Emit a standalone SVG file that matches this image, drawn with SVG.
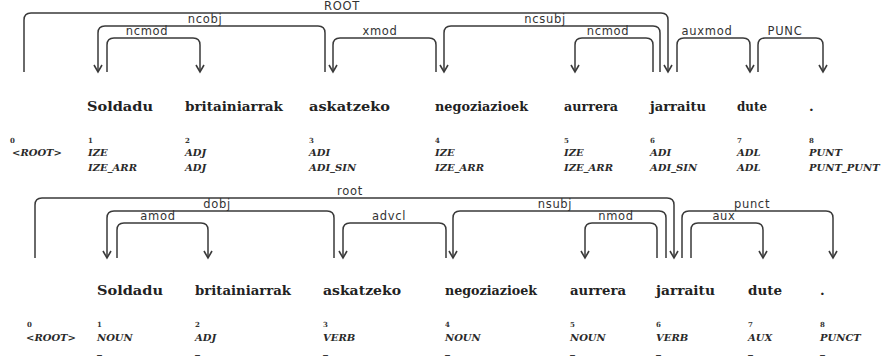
<svg xmlns="http://www.w3.org/2000/svg" width="893" height="362" viewBox="0 0 893 362">
<style>
.arc{fill:none;stroke:#3a3a3a;stroke-width:1.5}
.arr{marker-end:url(#ah)}
.lbl{font-family:"DejaVu Sans",Verdana,sans-serif;font-size:11.5px;fill:#333;text-anchor:middle;letter-spacing:0.7px}
.w{font-family:"DejaVu Serif","Liberation Serif",serif;font-size:13.5px;font-weight:bold;fill:#222}
.n{font-family:"DejaVu Serif","Liberation Serif",serif;font-size:7px;font-weight:bold;fill:#333}
.t{font-family:"DejaVu Serif","Liberation Serif",serif;font-size:10px;font-style:italic;font-weight:bold;fill:#2a2a2a}
</style>
<defs>
<marker id="ah" markerUnits="userSpaceOnUse" markerWidth="12" markerHeight="12" viewBox="-9 -6 12 12" refX="0" refY="0" orient="auto" overflow="visible">
<path d="M-7,-4 L0,0 L-7,4" fill="none" stroke="#3a3a3a" stroke-width="1.6"/>
</marker>
</defs>
<rect width="893" height="362" fill="#fff"/>

<g id="connectors">
<g id="top-arcs">
<path class="arc arr" d="M24,72 V20 Q24,13 31,13 H661 Q668,13 668,20 V72"/>
<path class="arc arr" d="M325,72 V33 Q325,26 318,26 H105 Q98,26 98,33 V72"/>
<path class="arc arr" d="M107,72 V45 Q107,38 114,38 H193 Q200,38 200,45 V72"/>
<path class="arc arr" d="M436,72 V45 Q436,38 429,38 H340 Q333,38 333,45 V72"/>
<path class="arc arr" d="M660,72 V33 Q660,26 653,26 H451 Q444,26 444,33 V72"/>
<path class="arc arr" d="M653,72 V45 Q653,38 646,38 H582 Q575,38 575,45 V72"/>
<path class="arc arr" d="M677,72 V45 Q677,38 684,38 H743 Q750,38 750,45 V72"/>
<path class="arc arr" d="M758,72 V45 Q758,38 765,38 H816 Q823,38 823,45 V72"/>
<text class="lbl" x="342" y="10">ROOT</text>
<text class="lbl" x="205" y="23">ncobj</text>
<text class="lbl" x="147" y="35">ncmod</text>
<text class="lbl" x="380" y="35">xmod</text>
<text class="lbl" x="545" y="23">ncsubj</text>
<text class="lbl" x="608" y="35">ncmod</text>
<text class="lbl" x="707" y="35">auxmod</text>
<text class="lbl" x="785" y="35">PUNC</text>
</g>
<g id="bottom-arcs">
<path class="arc arr" d="M35,258 V205 Q35,198 42,198 H667 Q674,198 674,205 V258"/>
<path class="arc arr" d="M334,258 V218 Q334,211 327,211 H114 Q107,211 107,218 V258"/>
<path class="arc arr" d="M117,258 V230 Q117,223 124,223 H201 Q208,223 208,230 V258"/>
<path class="arc arr" d="M446,258 V230 Q446,223 439,223 H350 Q343,223 343,230 V258"/>
<path class="arc arr" d="M666,258 V218 Q666,211 659,211 H460 Q453,211 453,218 V258"/>
<path class="arc arr" d="M657,258 V230 Q657,223 650,223 H592 Q585,223 585,230 V258"/>
<path class="arc arr" d="M682,258 V218 Q682,211 689,211 H826 Q833,211 833,218 V258"/>
<path class="arc arr" d="M691,258 V230 Q691,223 698,223 H756 Q763,223 763,230 V258"/>
<text class="lbl" x="350" y="195">root</text>
<text class="lbl" x="217" y="208">dobj</text>
<text class="lbl" x="158" y="220">amod</text>
<text class="lbl" x="389" y="220">advcl</text>
<text class="lbl" x="555" y="208">nsubj</text>
<text class="lbl" x="616" y="220">nmod</text>
<text class="lbl" x="752" y="208">punct</text>
<text class="lbl" x="724" y="220">aux</text>
</g>
</g>

<g id="top-tokens">
<g id="t0"><text class="n" x="10" y="143">0</text><text class="t" x="12" y="156">&lt;ROOT&gt;</text></g>
<g id="t1"><text class="w" x="87" y="111" textLength="66" lengthAdjust="spacingAndGlyphs">Soldadu</text><text class="n" x="88" y="143">1</text><text class="t" x="88" y="156">IZE</text><text class="t" x="88" y="171">IZE_ARR</text></g>
<g id="t2"><text class="w" x="185" y="111" textLength="98" lengthAdjust="spacingAndGlyphs">britainiarrak</text><text class="n" x="185" y="143">2</text><text class="t" x="185" y="156">ADJ</text><text class="t" x="185" y="171">ADJ</text></g>
<g id="t3"><text class="w" x="309" y="111" textLength="81" lengthAdjust="spacingAndGlyphs">askatzeko</text><text class="n" x="309" y="143">3</text><text class="t" x="309" y="156">ADI</text><text class="t" x="309" y="171">ADI_SIN</text></g>
<g id="t4"><text class="w" x="435" y="111" textLength="93" lengthAdjust="spacingAndGlyphs">negoziazioek</text><text class="n" x="435" y="143">4</text><text class="t" x="435" y="156">IZE</text><text class="t" x="435" y="171">IZE_ARR</text></g>
<g id="t5"><text class="w" x="564" y="111" textLength="54" lengthAdjust="spacingAndGlyphs">aurrera</text><text class="n" x="564" y="143">5</text><text class="t" x="564" y="156">IZE</text><text class="t" x="564" y="171">IZE_ARR</text></g>
<g id="t6"><text class="w" x="650" y="111" textLength="56" lengthAdjust="spacingAndGlyphs">jarraitu</text><text class="n" x="650" y="143">6</text><text class="t" x="650" y="156">ADI</text><text class="t" x="650" y="171">ADI_SIN</text></g>
<g id="t7"><text class="w" x="737" y="111" textLength="30" lengthAdjust="spacingAndGlyphs">dute</text><text class="n" x="737" y="143">7</text><text class="t" x="737" y="156">ADL</text><text class="t" x="737" y="171">ADL</text></g>
<g id="t8"><text class="w" x="809" y="111">.</text><text class="n" x="809" y="143">8</text><text class="t" x="809" y="156">PUNT</text><text class="t" x="809" y="171">PUNT_PUNT</text></g>
</g>

<g id="bottom-tokens">
<g id="b0"><text class="n" x="27" y="327">0</text><text class="t" x="26" y="341">&lt;ROOT&gt;</text></g>
<g id="b1"><text class="w" x="97" y="295" textLength="66" lengthAdjust="spacingAndGlyphs">Soldadu</text><text class="n" x="97" y="327">1</text><text class="t" x="97" y="341">NOUN</text><text class="t" x="97" y="354">_</text></g>
<g id="b2"><text class="w" x="195" y="295" textLength="96" lengthAdjust="spacingAndGlyphs">britainiarrak</text><text class="n" x="195" y="327">2</text><text class="t" x="195" y="341">ADJ</text><text class="t" x="195" y="354">_</text></g>
<g id="b3"><text class="w" x="323" y="295" textLength="78" lengthAdjust="spacingAndGlyphs">askatzeko</text><text class="n" x="323" y="327">3</text><text class="t" x="323" y="341">VERB</text><text class="t" x="323" y="354">_</text></g>
<g id="b4"><text class="w" x="445" y="295" textLength="92" lengthAdjust="spacingAndGlyphs">negoziazioek</text><text class="n" x="445" y="327">4</text><text class="t" x="445" y="341">NOUN</text><text class="t" x="445" y="354">_</text></g>
<g id="b5"><text class="w" x="570" y="295" textLength="56" lengthAdjust="spacingAndGlyphs">aurrera</text><text class="n" x="570" y="327">5</text><text class="t" x="570" y="341">NOUN</text><text class="t" x="570" y="354">_</text></g>
<g id="b6"><text class="w" x="656" y="295" textLength="59" lengthAdjust="spacingAndGlyphs">jarraitu</text><text class="n" x="656" y="327">6</text><text class="t" x="656" y="341">VERB</text><text class="t" x="656" y="354">_</text></g>
<g id="b7"><text class="w" x="748" y="295" textLength="34" lengthAdjust="spacingAndGlyphs">dute</text><text class="n" x="748" y="327">7</text><text class="t" x="748" y="341">AUX</text><text class="t" x="748" y="354">_</text></g>
<g id="b8"><text class="w" x="820" y="295">.</text><text class="n" x="820" y="327">8</text><text class="t" x="820" y="341">PUNCT</text><text class="t" x="820" y="354">_</text></g>
</g>
</svg>
